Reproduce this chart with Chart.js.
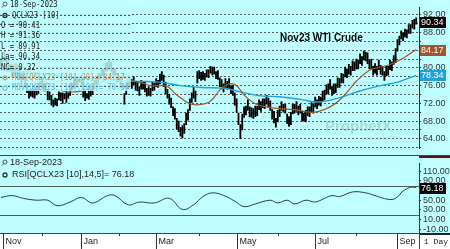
<!DOCTYPE html>
<html>
<head>
<meta charset="utf-8">
<script src="https://cdn.jsdelivr.net/npm/chart.js@4.4.0/dist/chart.umd.min.js"></script>
<style>
  html, body { margin:0; padding:0; background:#fff; }
  #wrap { position:relative; width:450px; height:249px; overflow:hidden; }
  canvas { position:absolute; left:0; }
</style>
</head>
<body>
<div id="wrap">
  <canvas id="price" width="450" height="156" style="top:0"></canvas>
  <canvas id="rsi" width="450" height="93" style="top:156px"></canvas>
</div>
<script>
// daily bars, QCLX23, 31-Oct-2022 .. 18-Sep-2023 (index = trading day)
const lows = [
  80.4,81.4,81.6,80.6,79.4,79.4,77.9,78.8,78.8,77.8,
  77.4,76.4,77.4,75.6,74.4,73.2,73.6,73.4,73.2,73.9,
  74.2,75.8,75.4,74.8,74.8,72.8,72.8,71.6,71.2,71.6,
  71.4,72.8,72.6,72.0,73.0,72.2,73.2,73.8,75.0,75.4,
  76.2,75.6,76.8,75.8,73.4,72.6,73.2,72.9,73.6,74.0,
  75.2,76.6,76.6,77.4,78.2,78.2,79.2,79.4,80.2,79.2,
  78.4,78.4,76.8,76.8,75.6,75.4,71.8,74.0,75.2,75.8,
  75.4,76.2,75.0,74.8,73.8,75.2,75.2,74.6,73.6,73.8,
  73.6,74.8,75.0,75.8,75.6,76.4,77.2,75.8,74.2,73.2,
  71.8,71.0,69.2,68.4,66.2,65.6,64.6,64.2,65.2,67.2,
  68.2,70.4,72.2,73.2,72.4,76.6,77.6,77.2,77.4,77.2,
  78.0,77.8,78.8,78.4,78.6,77.6,77.4,75.8,75.8,74.6,
  75.6,75.2,75.4,74.2,73.8,71.6,70.0,67.2,64.0,66.0,
  68.8,69.4,70.4,69.0,68.8,68.6,69.0,69.2,70.6,70.2,
  71.0,70.8,71.8,71.0,70.4,68.4,67.6,66.6,67.8,69.0,
  70.4,70.0,69.8,67.4,66.8,67.2,69.6,69.8,70.2,69.4,
  69.8,68.0,68.0,67.8,69.2,69.0,70.0,69.8,71.2,70.8,
  71.6,71.4,72.6,72.8,74.0,74.2,75.2,73.8,74.2,74.4,
  75.6,75.6,76.6,76.6,78.0,77.8,78.6,78.4,79.4,79.4,
  79.8,79.8,81.0,80.6,81.8,81.6,81.0,79.8,79.8,78.4,
  78.8,78.4,79.6,78.6,78.4,77.2,78.2,78.4,79.6,79.4,
  80.8,81.2,83.8,85.2,86.6,86.2,87.0,86.8,87.8,87.8,
  89.0,88.8,89.91
];
const highs = [
  82.2,82.6,83.8,82.4,81.6,80.6,80.2,80.0,81.0,79.6,
  79.6,78.2,79.2,77.8,76.6,75.0,75.2,75.4,75.2,75.6,
  76.6,77.0,77.8,76.6,76.4,75.2,74.6,73.8,72.8,73.2,
  73.0,74.6,74.4,74.4,74.2,74.6,74.4,76.2,76.6,77.8,
  77.6,78.0,78.0,78.4,77.4,74.8,74.2,75.6,75.2,76.0,
  77.4,77.6,78.8,78.8,79.6,79.8,81.2,81.4,81.8,81.4,
  80.0,79.8,78.8,77.8,77.6,76.6,74.2,76.8,76.8,77.6,
  77.4,78.0,76.8,76.8,75.8,77.2,77.0,76.8,75.4,75.8,
  75.4,76.8,76.6,77.6,77.2,78.6,79.2,78.4,76.8,75.2,
  74.0,73.2,71.2,70.8,68.6,68.0,66.6,67.0,67.4,69.8,
  70.6,73.0,74.4,75.6,74.8,79.2,79.4,79.0,79.2,78.8,
  79.6,79.6,80.4,80.2,80.2,79.2,79.4,77.8,77.4,76.4,
  77.6,77.0,77.6,76.0,76.0,74.4,73.0,69.8,67.2,69.6,
  71.2,71.4,72.8,71.2,71.0,70.8,71.4,71.4,72.8,72.4,
  73.0,73.0,73.8,73.2,72.6,70.6,70.2,68.6,70.4,71.4,
  72.4,71.8,71.8,69.6,69.0,70.0,71.8,71.8,72.4,71.4,
  71.8,70.2,69.8,70.4,71.2,71.2,72.2,71.8,73.4,72.8,
  73.6,73.4,74.8,75.0,76.2,76.4,77.4,75.8,76.4,76.4,
  77.8,77.6,78.8,78.6,80.2,79.8,80.8,80.4,81.6,81.4,
  82.0,81.8,83.2,82.6,83.8,83.6,83.4,81.8,82.0,80.4,
  81.0,80.4,81.8,80.6,80.4,79.2,80.4,80.4,81.8,81.4,
  82.8,84.4,86.4,87.2,88.4,88.0,88.8,88.6,89.8,89.8,
  90.8,91.0,91.36
];

// moving averages, read at a few bar indexes
const ma20Idx = [0,10,20,30,40,50,60,71,74,80,85,89,94,101,106,112,117,122,126,130,136,142,149,157,165,170,176,181,186,190,197,202,208,215,222];
const ma20Val = [81.0,80.4,78.0,75.2,74.6,75.8,78.2,77.0,76.8,76.0,76.0,75.8,73.9,71.9,71.7,72.5,75.0,76.4,76.0,73.9,71.9,71.2,70.8,70.6,70.0,70.2,71.2,72.7,75.0,77.0,79.5,80.1,80.8,82.2,84.17];
const ma100Idx = [0,20,40,60,71,85,96,107,120,128,139,149,160,170,181,192,203,212,222];
const ma100Val = [79.5,78.8,77.8,77.3,77.0,76.8,76.0,75.6,75.4,74.6,73.7,73.5,72.9,72.3,73.3,74.8,76.0,76.8,78.34];

// RSI(14,5)
const rsiIdx = [0,6,12,19,25,30,37,43,49,57,61,68,74,82,90,97,103,108,113,119,125,130,136,144,148,153,157,163,168,173,177,181,188,195,200,207,211,215,219,222];
const rsiVal = [55.8,59.6,53.9,50.1,50.1,38.7,46.3,55.8,44.4,59.6,59.6,40.6,46.3,44.4,53.9,31.1,40.6,57.7,65.3,60.0,48.2,36.8,42.5,50.1,44.4,50.1,42.5,50.1,46.3,53.9,59.6,57.7,67.2,65.3,59.6,52.0,53.9,69.1,76.7,76.18];

const priceTicks = [62,64,66,68,70,72,74,76,78,80,82,84,86,88,90,92];
const rsiTicks = [-10,10,30,50,70,90,110];
const monthIdx = [1,22,43,63,83,106,126,148,168,190,212];
const monthLabels = ['Nov','','Jan','','Mar','','May','','Jul','','Sep'];

const quote = { date:'18-Sep-2023', sym:'QCLX23 [10]', open:90.41, high:91.36, low:89.91, last:90.34, chg:0.32 };
const ma20Last = 84.17, ma100Last = 78.34, rsiLast = 76.18;

const BG = '#c0ffff';
const BROWN = '#a0562c';
const BLUE = '#1ea2dc';
const AXISFONT = '9px "Liberation Sans", Arial, sans-serif';

function valueBox(ctx, y, txt, bg) {
  ctx.fillStyle = bg;
  ctx.fillRect(420, Math.round(y) - 5, 26, 11);
  ctx.fillStyle = '#fff';
  ctx.font = AXISFONT;
  ctx.textBaseline = 'middle';
  ctx.textAlign = 'left';
  ctx.fillText(txt, 421, Math.round(y) + 0.5);
}
function magIcon(ctx, x, y) {
  ctx.strokeStyle = '#555'; ctx.lineWidth = 1;
  ctx.beginPath(); ctx.arc(x + 1, y - 1, 2, 0, Math.PI * 2); ctx.stroke();
  ctx.beginPath(); ctx.moveTo(x - 0.5, y + 0.5); ctx.lineTo(x - 2, y + 2.5); ctx.stroke();
}
function ringIcon(ctx, x, y, c) {
  ctx.strokeStyle = c; ctx.lineWidth = 1.3;
  ctx.beginPath(); ctx.arc(x, y, 2, 0, Math.PI * 2); ctx.stroke();
}
// squeezed monospace, like the terminal font of the legend
function monoText(ctx, t, x, y) {
  ctx.save();
  ctx.translate(x, y);
  ctx.scale(0.86, 1);
  ctx.fillText(t, 0, 0);
  ctx.restore();
}

const pricePlugin = {
  id: 'pricePanel',
  beforeDraw(chart) {
    const ctx = chart.ctx;
    ctx.save(); ctx.fillStyle = BG; ctx.fillRect(0, 0, chart.width, chart.height); ctx.restore();
  },
  afterDraw(chart) {
    const ctx = chart.ctx;
    const ys = chart.scales.y;
    ctx.save();
    // watermark
    ctx.fillStyle = 'rgba(140,185,175,0.5)';
    ctx.font = 'bold 15px "Liberation Sans", Arial, sans-serif';
    ctx.textBaseline = 'middle';
    ctx.fillText('ProphetX', 325, 127);
    ctx.font = '5px "Liberation Sans", Arial, sans-serif';
    ctx.fillText('powered by DTN', 362, 139);
    // legend panel over the early bars
    ctx.fillStyle = 'rgba(192,255,255,0.82)';
    ctx.fillRect(0, 0, 131, 91);
    ctx.strokeStyle = '#555'; ctx.lineWidth = 1; ctx.setLineDash([2, 2]);
    priceTicks.forEach(v => {
      const y = Math.round(ys.getPixelForValue(v)) + 0.5;
      if (y < 91) { ctx.beginPath(); ctx.moveTo(0, y); ctx.lineTo(131, y); ctx.stroke(); }
    });
    ctx.setLineDash([]);
    // title
    ctx.fillStyle = '#000';
    ctx.font = 'bold 10px "Liberation Sans", Arial, sans-serif';
    ctx.fillText('Nov23 WTI Crude', 280, 38);
    // legend text
    const lines = [
      { t: quote.date, x: 10, icon: 'mag' },
      { t: quote.sym, x: 12, icon: '#222' },
      { t: 'O = ' + quote.open.toFixed(2), x: 1 },
      { t: 'H = ' + quote.high.toFixed(2), x: 1 },
      { t: 'L = ' + quote.low.toFixed(2), x: 1 },
      { t: 'La= ' + quote.last.toFixed(2), x: 1 },
      { t: 'NC= ' + quote.chg.toFixed(2), x: 1 },
      { t: 'MOV[QCLX23 [10],20]= ' + ma20Last.toFixed(2), x: 12, icon: '#c89a74', c: '#c08e66' },
      { t: 'MOV[QCLX23 [10],100]= ' + ma100Last.toFixed(2), x: 12, icon: '#6cc4ec', c: '#5cbce8' }
    ];
    ctx.font = '8.4px "DejaVu Sans Mono", monospace';
    lines.forEach((l, k) => {
      const y = 5 + k * 10.4;
      if (l.icon === 'mag') magIcon(ctx, 4, y);
      else if (l.icon) ringIcon(ctx, 5, y, l.icon);
      ctx.fillStyle = l.c || '#1a1a1a';
      monoText(ctx, l.t, l.x, y);
    });
    // last value boxes
    valueBox(ctx, ys.getPixelForValue(quote.last), quote.last.toFixed(2), '#000');
    valueBox(ctx, ys.getPixelForValue(ma20Last), ma20Last.toFixed(2), BROWN);
    valueBox(ctx, ys.getPixelForValue(ma100Last), ma100Last.toFixed(2), BLUE);
    // panel separator
    ctx.strokeStyle = '#444'; ctx.lineWidth = 1;
    ctx.beginPath(); ctx.moveTo(0, 155.5); ctx.lineTo(450, 155.5); ctx.stroke();
    ctx.restore();
  }
};

new Chart(document.getElementById('price'), {
  type: 'bar',
  data: {
    datasets: [
      { type: 'line', label: 'MOV20', data: ma20Idx.map((x, k) => ({ x, y: ma20Val[k] })),
        borderColor: BROWN, borderWidth: 1.2, pointRadius: 0, tension: 0.4, order: 0 },
      { type: 'line', label: 'MOV100', data: ma100Idx.map((x, k) => ({ x, y: ma100Val[k] })),
        borderColor: BLUE, borderWidth: 1.4, pointRadius: 0, tension: 0.4, order: 0 },
      { type: 'bar', label: 'QCLX23', data: highs.map((h, i) => ({ x: i, y: [lows[i], h] })),
        backgroundColor: '#000', barThickness: 1.2, order: 1 }
    ]
  },
  options: {
    responsive: false, animation: false, devicePixelRatio: 1,
    layout: { padding: 0 },
    plugins: { legend: { display: false }, tooltip: { enabled: false } },
    scales: {
      x: { type: 'linear', min: -0.5, max: 223.5, offset: false, display: false },
      y: {
        position: 'right', min: 61.77, max: 93.7,
        afterBuildTicks: s => { s.ticks = priceTicks.map(v => ({ value: v })); },
        afterFit: s => { s.width = 31; },
        ticks: { callback: v => (v % 4 === 0 ? v.toFixed(2) : ''), font: { family: 'Liberation Sans', size: 9 },
                 color: '#333', padding: 2, autoSkip: false, maxRotation: 0 },
        grid: { color: '#555', tickLength: 2, tickColor: '#333' },
        border: { display: true, color: '#333', dash: [2, 2] }
      }
    }
  },
  plugins: [pricePlugin]
});

const rsiPlugin = {
  id: 'rsiPanel',
  beforeDraw(chart) {
    const ctx = chart.ctx, a = chart.chartArea;
    ctx.save();
    ctx.fillStyle = BG; ctx.fillRect(0, 0, chart.width, a.bottom);
    ctx.fillStyle = '#fff'; ctx.fillRect(0, a.bottom, chart.width, chart.height - a.bottom);
    ctx.restore();
  },
  beforeDatasetsDraw(chart) {
    const ctx = chart.ctx, a = chart.chartArea, ys = chart.scales.y;
    ctx.save();
    ctx.strokeStyle = '#505a55'; ctx.lineWidth = 1;
    [80, 20].forEach(v => {
      const y = Math.round(ys.getPixelForValue(v)) + 0.5;
      ctx.beginPath(); ctx.moveTo(a.left, y); ctx.lineTo(a.right, y); ctx.stroke();
    });
    ctx.restore();
  },
  afterDraw(chart) {
    const ctx = chart.ctx, a = chart.chartArea, ys = chart.scales.y, xs = chart.scales.x;
    ctx.save();
    // header
    ctx.font = AXISFONT; ctx.textBaseline = 'middle';
    magIcon(ctx, 4, 7);
    ctx.fillStyle = '#222';
    ctx.fillText(quote.date, 10, 7);
    ringIcon(ctx, 5, 19, '#333');
    ctx.fillStyle = '#222';
    ctx.fillText('RSI[QCLX23 [10],14,5]= ' + rsiLast.toFixed(2), 12, 19);
    valueBox(ctx, ys.getPixelForValue(rsiLast), rsiLast.toFixed(2), '#000');
    // borders
    ctx.fillStyle = '#5b1010'; ctx.fillRect(419, 0, 31, 2);
    ctx.strokeStyle = '#444'; ctx.lineWidth = 1;
    ctx.beginPath(); ctx.moveTo(0, a.bottom + 0.5); ctx.lineTo(419, a.bottom + 0.5); ctx.stroke();
    ctx.fillStyle = '#222'; ctx.fillRect(419, a.bottom, 31, 2);
    ctx.beginPath(); ctx.moveTo(419.5, a.bottom); ctx.lineTo(419.5, chart.height); ctx.stroke();
    // month ticks and labels
    ctx.strokeStyle = '#333';
    ctx.fillStyle = '#222';
    monthIdx.forEach((m, k) => {
      const x = Math.round(xs.getPixelForValue(m)) + 0.5;
      const major = monthLabels[k] !== '';
      ctx.beginPath(); ctx.moveTo(x, a.bottom); ctx.lineTo(x, major ? chart.height : a.bottom + 3); ctx.stroke();
      if (major) ctx.fillText(monthLabels[k], x + 2, a.bottom + 9);
    });
    ctx.font = '8px "Liberation Mono", monospace';
    ctx.fillText('1 Day', 424, a.bottom + 9);
    ctx.restore();
  }
};

new Chart(document.getElementById('rsi'), {
  type: 'line',
  data: {
    datasets: [{ label: 'RSI', data: rsiIdx.map((x, k) => ({ x, y: rsiVal[k] })),
      borderColor: '#2f3f3a', borderWidth: 1, pointRadius: 0, tension: 0.4 }]
  },
  options: {
    responsive: false, animation: false, devicePixelRatio: 1,
    layout: { padding: { top: 1 } },
    plugins: { legend: { display: false }, tooltip: { enabled: false } },
    scales: {
      x: { type: 'linear', min: -0.5, max: 223.5, offset: false,
           afterFit: s => { s.height = 16; },
           ticks: { display: false }, grid: { display: false }, border: { display: false } },
      y: {
        position: 'right', min: -17.6, max: 126.1,
        afterBuildTicks: s => { s.ticks = rsiTicks.map(v => ({ value: v })); },
        afterFit: s => { s.width = 31; },
        ticks: { callback: v => v.toFixed(2), font: { family: 'Liberation Sans', size: 9 },
                 color: '#333', padding: 2, autoSkip: false, maxRotation: 0 },
        grid: { drawOnChartArea: false, tickLength: 2, tickColor: '#333' },
        border: { display: true, color: '#333' }
      }
    }
  },
  plugins: [rsiPlugin]
});
</script>
</body>
</html>
